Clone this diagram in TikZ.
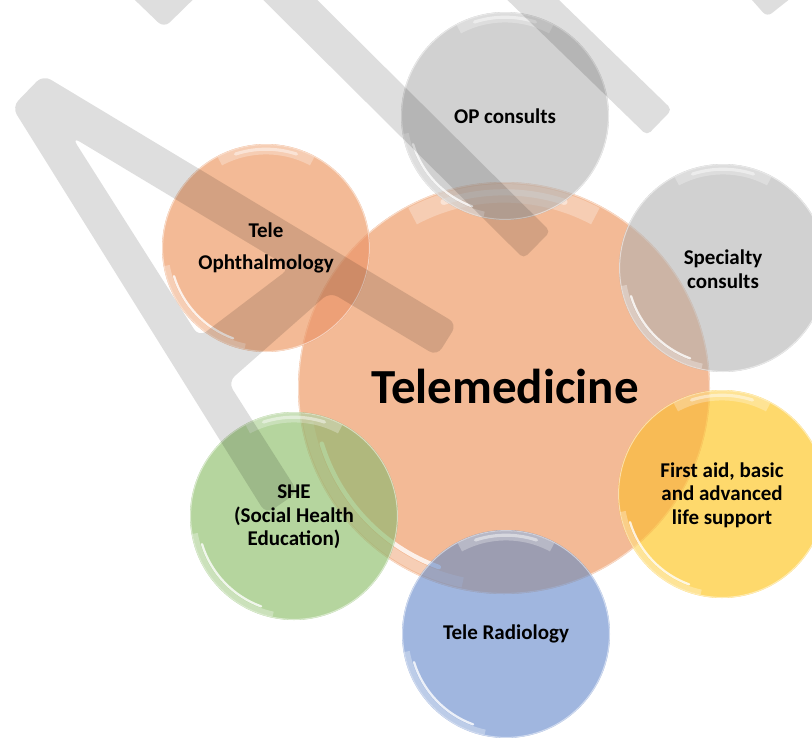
\documentclass[tikz,border=0pt]{standalone}
\usepackage{fontspec}
\setmainfont{Carlito}
\definecolor{cOr}{RGB}{243,186,150}
\definecolor{cGr}{RGB}{209,209,209}
\definecolor{cYe}{RGB}{254,217,108}
\definecolor{cGn}{RGB}{181,213,158}
\definecolor{cBl}{RGB}{160,182,223}
\newcommand\mybubble[3]{%
 \fill[#3, blend mode=multiply] (#1) circle[radius=#2pt];
 \fill[#3, fill opacity=.5] (#1) circle[radius=#2pt];
 \draw[white, opacity=.28, line width={0.09*#2pt}] ([shift={(62:{0.945*#2pt})}]#1) arc[start angle=62,end angle=118,radius={0.945*#2pt}];
 \draw[white, opacity=.45, line width={0.03*#2pt}, line cap=round] ([shift={(72:{0.95*#2pt})}]#1) arc[start angle=72,end angle=108,radius={0.95*#2pt}];
 \draw[white, opacity=.3, line width={0.05*#2pt}] ([shift={(190:{0.965*#2pt})}]#1) arc[start angle=190,end angle=258,radius={0.965*#2pt}];
 \draw[white, opacity=.8, line width={0.022*#2pt}, line cap=round] ([shift={(197:{0.925*#2pt})}]#1) arc[start angle=197,end angle=250,radius={0.925*#2pt}];
 \draw[white, opacity=.5, line width=1pt] (#1) circle[radius={#2pt-0.6pt}];
}
\tikzset{
  wm/.style={fill=black, fill opacity=0.13},
  lbl/.style={font=\bfseries\fontsize{21}{23.5}\selectfont, align=center, inner sep=0pt, text=black},
  big/.style={font=\bfseries\fontsize{49}{55}\selectfont, inner sep=0pt, text=black}
}
\begin{document}
\begin{tikzpicture}[x=1pt,y=-1pt]
\useasboundingbox (0,0) rectangle (812,737);
\clip (0,0) rectangle (812,737);
\fill[white] (0,0) rectangle (812,737);
% centres
\coordinate (cT) at (504,388);
\coordinate (cOP) at (505,116);
\coordinate (cSp) at (723,268);
\coordinate (cFA) at (722,494);
\coordinate (cRa) at (506,634);
\coordinate (cSH) at (294,516);
\coordinate (cOph) at (266,248);
% bubbles
\mybubble{cT}{206}{cOr}
\mybubble{cOP}{104}{cGr}
\mybubble{cSp}{104}{cGr}
\mybubble{cFA}{104}{cYe}
\mybubble{cRa}{104}{cBl}
\mybubble{cSH}{104}{cGn}
\mybubble{cOph}{104}{cOr}
% watermark
\fill[wm, even odd rule, rounded corners=9pt]
  (12,107) -- (266,514) -- (298,492) -- (228,382) -- (330,292) -- (437,356) -- (457,324) -- (43,75) -- cycle
  (72,137) -- (199,337) -- (290,268) -- cycle;
\fill[wm, rounded corners=5pt] (236.6,-26.5) -- (523.6,258.5) -- (550.4,231.5) -- (263.4,-53.5) -- cycle;
\fill[wm, rounded corners=5pt] (480.5,-26.1) -- (647,135.4) -- (672,109.6) -- (505.5,-51.9) -- cycle;
\fill[wm, rounded corners=8pt] (112,-22) -- (164,28) -- (215,-22) -- cycle;
\fill[wm, rounded corners=6pt] (730,-25) -- (767,17) -- (820,-25) -- cycle;
% labels
\node[big] (tT) at (505,386) {Telemedicine};
\node[lbl] (tOP) at (505,116) {OP consults};
\node[lbl] (tSp) at (723,269) {Specialty\\consults};
\node[lbl] (tFA) at (722,495) {First aid, basic\\and advanced\\life support};
\node[lbl] (tRa) at (506,634) {Tele Radiology};
\node[lbl] (tSH) at (294,517) {SHE\\(Social Health\\Education)};
\node[lbl, font=\bfseries\fontsize{21}{32}\selectfont] (tOph) at (266,248) {Tele\\Ophthalmology};
\end{tikzpicture}
\end{document}
